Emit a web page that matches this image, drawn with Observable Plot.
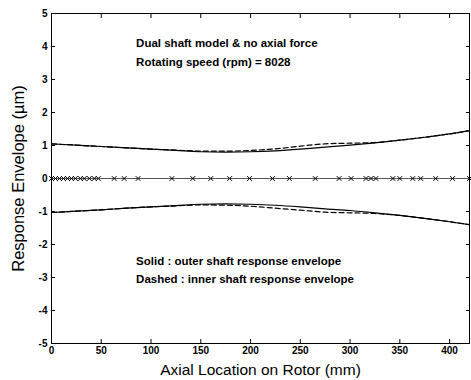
<!DOCTYPE html>
<html><head><meta charset="utf-8">
<script src="https://cdn.jsdelivr.net/npm/d3@7"></script>
<script src="https://cdn.jsdelivr.net/npm/@observablehq/plot@0.6"></script>
<style>
body{margin:0;background:#fff}
svg{display:block}
</style>
</head><body><div id="chart"></div>
<script>
// Axial positions (mm) where envelopes were read
const axialPos = [0, 25, 50, 75, 100, 125, 150, 175, 200, 225, 250, 275, 300, 325, 350, 375, 400, 420];
// Outer shaft (solid) response envelope, µm
const outerUpper = [1.05, 1.01, 0.97, 0.93, 0.89, 0.85, 0.81, 0.80, 0.81, 0.84, 0.89, 0.95, 1.01, 1.08, 1.16, 1.25, 1.35, 1.45];
const outerLower = [-1.03, -0.99, -0.95, -0.90, -0.86, -0.82, -0.78, -0.77, -0.78, -0.81, -0.86, -0.92, -0.97, -1.04, -1.12, -1.21, -1.31, -1.40];
// Inner shaft (dashed) response envelope, µm
const innerUpper = [1.05, 1.01, 0.97, 0.93, 0.89, 0.86, 0.83, 0.83, 0.85, 0.90, 0.98, 1.05, 1.07, 1.09, 1.16, 1.25, 1.35, 1.45];
const innerLower = [-1.03, -0.99, -0.95, -0.90, -0.86, -0.83, -0.80, -0.81, -0.84, -0.90, -0.96, -1.02, -1.04, -1.06, -1.12, -1.21, -1.31, -1.40];
// Rotor node locations (mm) marked on the zero line
const nodes = [0, 4, 8, 12, 16, 20, 24, 29, 33, 38, 43, 47, 63, 73, 87, 121, 142, 160, 179, 199, 222, 239, 265, 289, 301, 316, 321, 326, 343, 350, 363, 371, 386, 403, 420];
// Tick values
const xTicks = [0, 50, 100, 150, 200, 250, 300, 350, 400];
const yTicks = [-5, -4, -3, -2, -1, 0, 1, 2, 3, 4, 5];
// Annotations
const noteText = ["Dual shaft model & no axial force", "Rotating speed (rpm) = 8028", "Solid : outer shaft response envelope", "Dashed : inner shaft response envelope"];
const noteX = [85, 85, 85, 85];
const noteY = [4.1, 3.52, -2.52, -3.07];

const font = "'Liberation Sans', Arial, Helvetica, sans-serif";
const rows = (ys) => axialPos.map((x, i) => ({x, y: ys[i]}));
const notes = noteText.map((t, i) => ({t, x: noteX[i], y: noteY[i]}));
const fmt = (d) => (d < 0 ? "-" + Math.abs(d) : String(d));

const chart = Plot.plot({
  width: 471, height: 380,
  marginLeft: 51, marginRight: 2, marginTop: 13, marginBottom: 37,
  style: {fontFamily: font, background: "#fff", color: "#000", fontSize: "10px"},
  x: {domain: [0, 420]},
  y: {domain: [-5, 5]},
  marks: [
    Plot.frame({stroke: "#000", strokeWidth: 1}),
    Plot.axisX({anchor: "bottom", ticks: xTicks, tickSize: -4, tickFormat: () => "", label: null}),
    Plot.axisX({anchor: "top", ticks: xTicks, tickSize: -4, tickFormat: () => "", label: null}),
    Plot.axisY({anchor: "left", ticks: yTicks, tickSize: -4, tickFormat: () => "", label: null}),
    Plot.axisY({anchor: "right", ticks: yTicks, tickSize: -4, tickFormat: () => "", label: null}),
    Plot.axisX({anchor: "bottom", ticks: xTicks, tickSize: 0, tickPadding: 3, label: null, fontSize: 10, fontWeight: "bold", tickFormat: fmt}),
    Plot.axisY({anchor: "left", ticks: yTicks, tickSize: 0, tickPadding: 4, label: null, fontSize: 10, fontWeight: "bold", tickFormat: fmt}),
    Plot.ruleY([0], {stroke: "#555", strokeWidth: 1}),
    Plot.dot(nodes, {x: d => d, y: () => 0, symbol: "times", r: 2.3, stroke: "#000", strokeWidth: 1}),
    Plot.line(rows(innerUpper), {x: "x", y: "y", curve: "monotone-x", stroke: "#000", strokeWidth: 1.2, strokeDasharray: "5,3"}),
    Plot.line(rows(innerLower), {x: "x", y: "y", curve: "monotone-x", stroke: "#000", strokeWidth: 1.2, strokeDasharray: "5,3"}),
    Plot.line(rows(outerUpper), {x: "x", y: "y", curve: "monotone-x", stroke: "#000", strokeWidth: 1.2}),
    Plot.line(rows(outerLower), {x: "x", y: "y", curve: "monotone-x", stroke: "#000", strokeWidth: 1.2}),
    Plot.text(notes, {x: "x", y: "y", text: "t", textAnchor: "start", fontSize: 11.5, fontWeight: "bold", fill: "#000"}),
    Plot.text(["Axial Location on Rotor (mm)"], {frameAnchor: "bottom", textAnchor: "middle", lineAnchor: "middle", dy: 27, fontSize: 15.5, fill: "#000"}),
    Plot.text(["Response Envelope (\u00b5m)"], {frameAnchor: "left", textAnchor: "middle", lineAnchor: "middle", dx: -33, rotate: -90, fontSize: 16.5, fill: "#000"})
  ]
});
document.getElementById("chart").appendChild(chart);
</script>
</body></html>
